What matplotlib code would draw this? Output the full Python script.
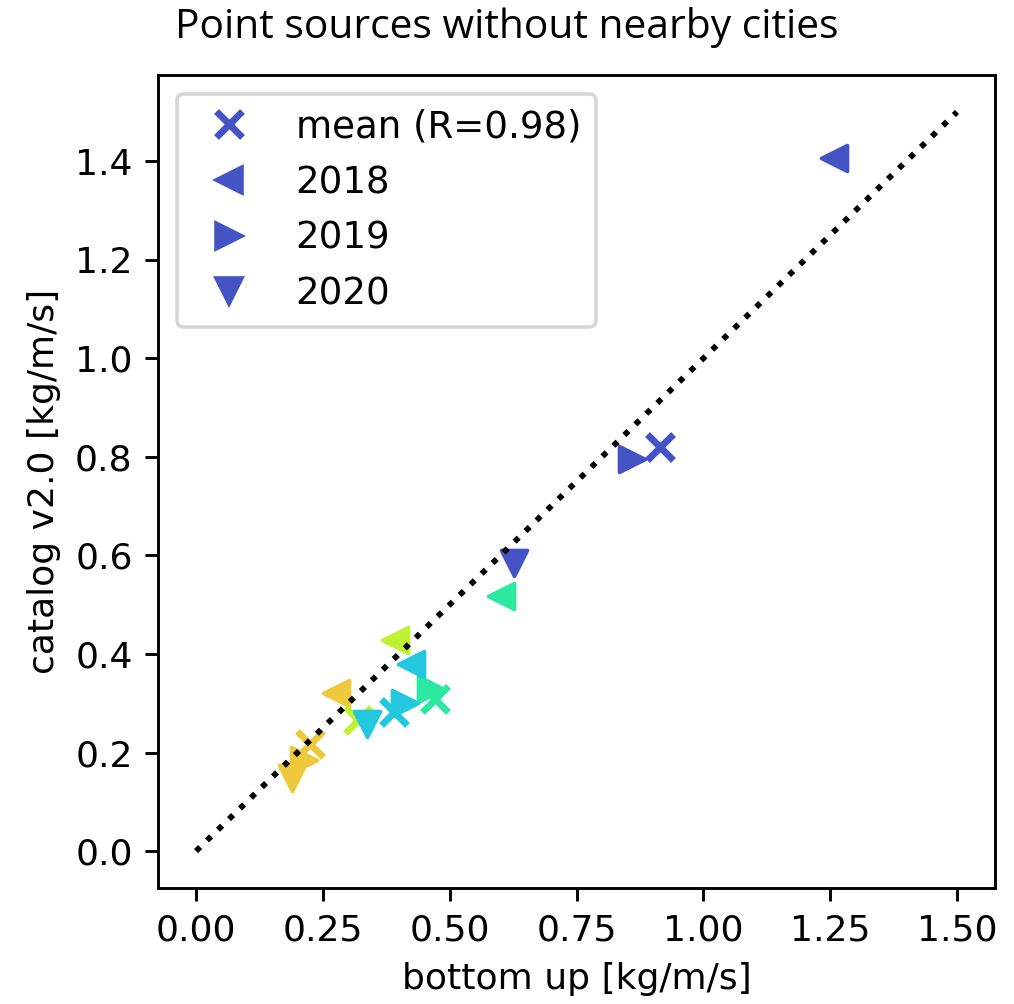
import numpy as np
import matplotlib
matplotlib.use("Agg")
import matplotlib.pyplot as plt
from matplotlib.lines import Line2D

plt.rcParams["font.family"] = ["DejaVu Sans"]

# sites (drawn in this order), colours per site
sites = ["site E", "site D", "site C", "site B", "site A"]
colors = ["#EEC93B", "#BEF232", "#2DE8A0", "#23C8E0", "#4454C4"]

# bottom-up vs catalog estimates [kg/m/s]; nan = no overpass that year
x_2018 = [0.276, 0.392, 0.601, 0.423, 1.257]
y_2018 = [0.320, 0.429, 0.518, 0.380, 1.406]
x_2019 = [0.212, np.nan, 0.463, 0.411, 0.859]
y_2019 = [0.184, np.nan, 0.328, 0.301, 0.796]
x_2020 = [0.189, np.nan, np.nan, 0.338, 0.627]
y_2020 = [0.148, np.nan, np.nan, 0.258, 0.585]
x_mean = [0.225, 0.319, 0.472, 0.391, 0.914]
y_mean = [0.217, 0.267, 0.308, 0.283, 0.820]

years = ["2018", "2019", "2020"]
markers = ["<", ">", "v"]
r_value = 0.98

fig = plt.figure(figsize=(1014 / 260, 1004 / 260), dpi=260)
ax = fig.add_axes([0.1558, 0.1155, 0.8255, 0.8098])

xs = [x_2018, x_2019, x_2020]
ys = [y_2018, y_2019, y_2020]
for i, c in enumerate(colors):
    for k in range(3):
        ax.scatter(xs[k][i], ys[k][i], marker=markers[k], color=c, s=52)
    ax.scatter(x_mean[i], y_mean[i], marker="x", color=c, s=52, linewidths=1.9)

ax.plot([0, 1.5], [0, 1.5], "k:", lw=1.6)

handles = [Line2D([], [], ls="", marker="x", color=colors[-1], ms=7.2, mew=1.9,
                  label=f"mean (R={r_value:.2f})")]
for yr, m in zip(years, markers):
    handles.append(Line2D([], [], ls="", marker=m, color=colors[-1], ms=7.2, label=yr))
ax.legend(handles=handles, loc="upper left", fontsize=10.3)

ax.set_xticks([0, 0.25, 0.5, 0.75, 1.0, 1.25, 1.5])
ax.set_xlim(-0.075, 1.575)
ax.set_ylim(-0.075, 1.575)
ax.tick_params(labelsize=10)
ax.set_xlabel("bottom up [kg/m/s]")
ax.set_ylabel("catalog v2.0 [kg/m/s]")

fig.text(0.4995, 0.962, "Point sources without nearby cities", ha="center",
         va="baseline", family="Open Sans", fontsize=11.3)

fig.savefig("out.png", dpi=260)
